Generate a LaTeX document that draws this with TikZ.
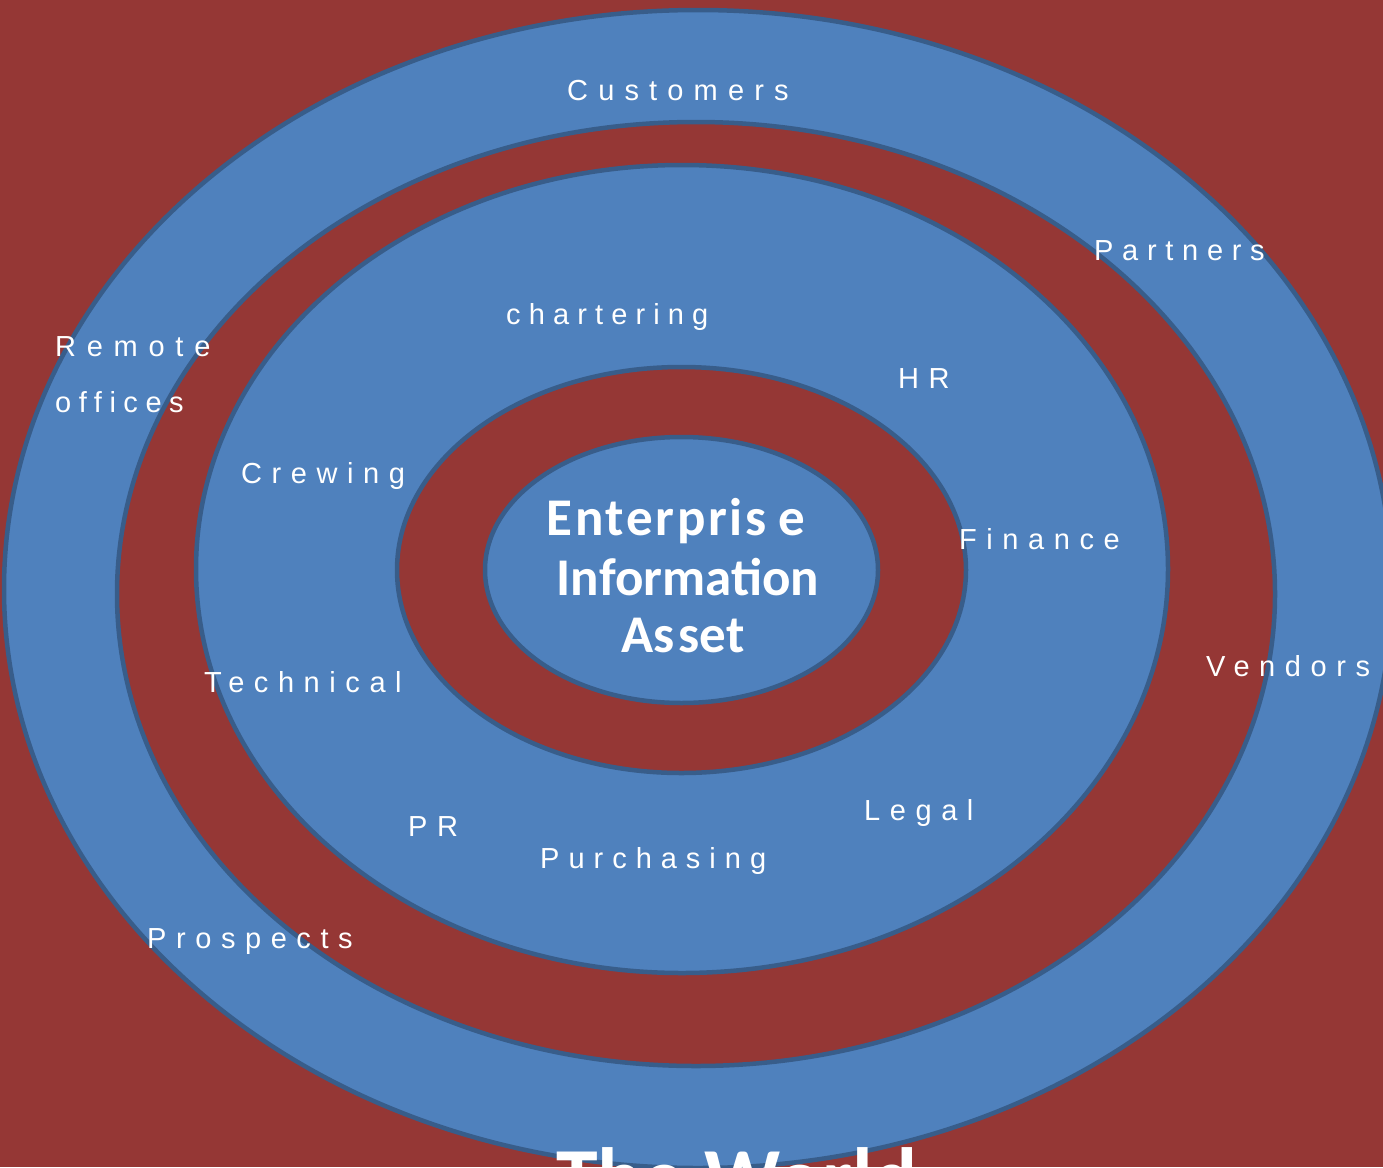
\documentclass[tikz,border=0pt]{standalone}
\usepackage{fontspec}
\setmainfont{Liberation Sans}
\newfontfamily\lblfont[LetterSpace=33]{Liberation Sans}
\newfontfamily\ctrfont{Carlito}
\definecolor{bgred}{RGB}{149,55,53}
\definecolor{ringblue}{RGB}{79,129,189}
\definecolor{edgeblue}{RGB}{56,93,138}
\begin{document}
\begin{tikzpicture}[x=1pt,y=-1pt,
  ring/.style={line width=4.5pt, draw=edgeblue},
  bluefill/.style={ring, fill=ringblue},
  redfill/.style={ring, fill=bgred},
  lbl/.style={anchor=base west, inner sep=0pt, text=white, font=\lblfont\fontsize{29}{35}\selectfont},
  tight/.style={lbl, font=\lblfont\fontsize{29}{35}\selectfont\addfontfeature{LetterSpace=#1}},
  ctr/.style={anchor=base, inner sep=0pt, text=white, font=\ctrfont\bfseries\fontsize{53}{59}\selectfont},
]
\fill[bgred] (0,0) rectangle (1383,1167);
\useasboundingbox (0,0) rectangle (1383,1167);
\begin{scope}
\clip (0,0) rectangle (1383,1167);
\path[bluefill] (698,589) ellipse [x radius=694pt, y radius=579pt];
\path[redfill] (696,594) ellipse [x radius=579pt, y radius=472pt];
\path[bluefill] (682,569) ellipse [x radius=486pt, y radius=404pt];
\path[redfill] (681.5,570) ellipse [x radius=284.5pt, y radius=203pt];
\path[bluefill] (681.5,570) ellipse [x radius=196.5pt, y radius=133pt];

\node[tight=35] (customers) at (567,100) {Customers};
\node[tight=30] (partners) at (1094,260) {Partners};
\node[tight=37] (remote) at (55,356) {Remote};
\node[tight=26] (offices) at (55,412) {offices};
\node[tight=28] (chartering) at (506,324) {chartering};
\node[lbl] (hr) at (898,388) {HR};
\node[lbl] (crewing) at (241,483) {Crewing};
\node[lbl] (finance) at (959,549) {Finance};
\node[lbl] (vendors) at (1206,676) {Vendors};
\node[lbl] (technical) at (204,692) {Technical};
\node[lbl] (pr) at (408,836) {PR};
\node[lbl] (legal) at (864,820) {Legal};
\node[tight=31] (purchasing) at (540,868) {Purchasing};
\node[lbl] (prospects) at (147,948) {Prospects};

\node[ctr, font=\ctrfont\bfseries\fontsize{53}{59}\selectfont\addfontfeature{LetterSpace=5}] (ent) at (676,535) {Enterpris\kern12pt e};
\node[ctr] (info) at (688,595) {Information};
\node[ctr] (asset) at (683,652) {As\kern4pt set};

\node[anchor=base, inner sep=0pt, text=white, font=\ctrfont\bfseries\fontsize{84}{90}\selectfont] (world) at (737,1206) {The World};
\end{scope}
\end{tikzpicture}
\end{document}
